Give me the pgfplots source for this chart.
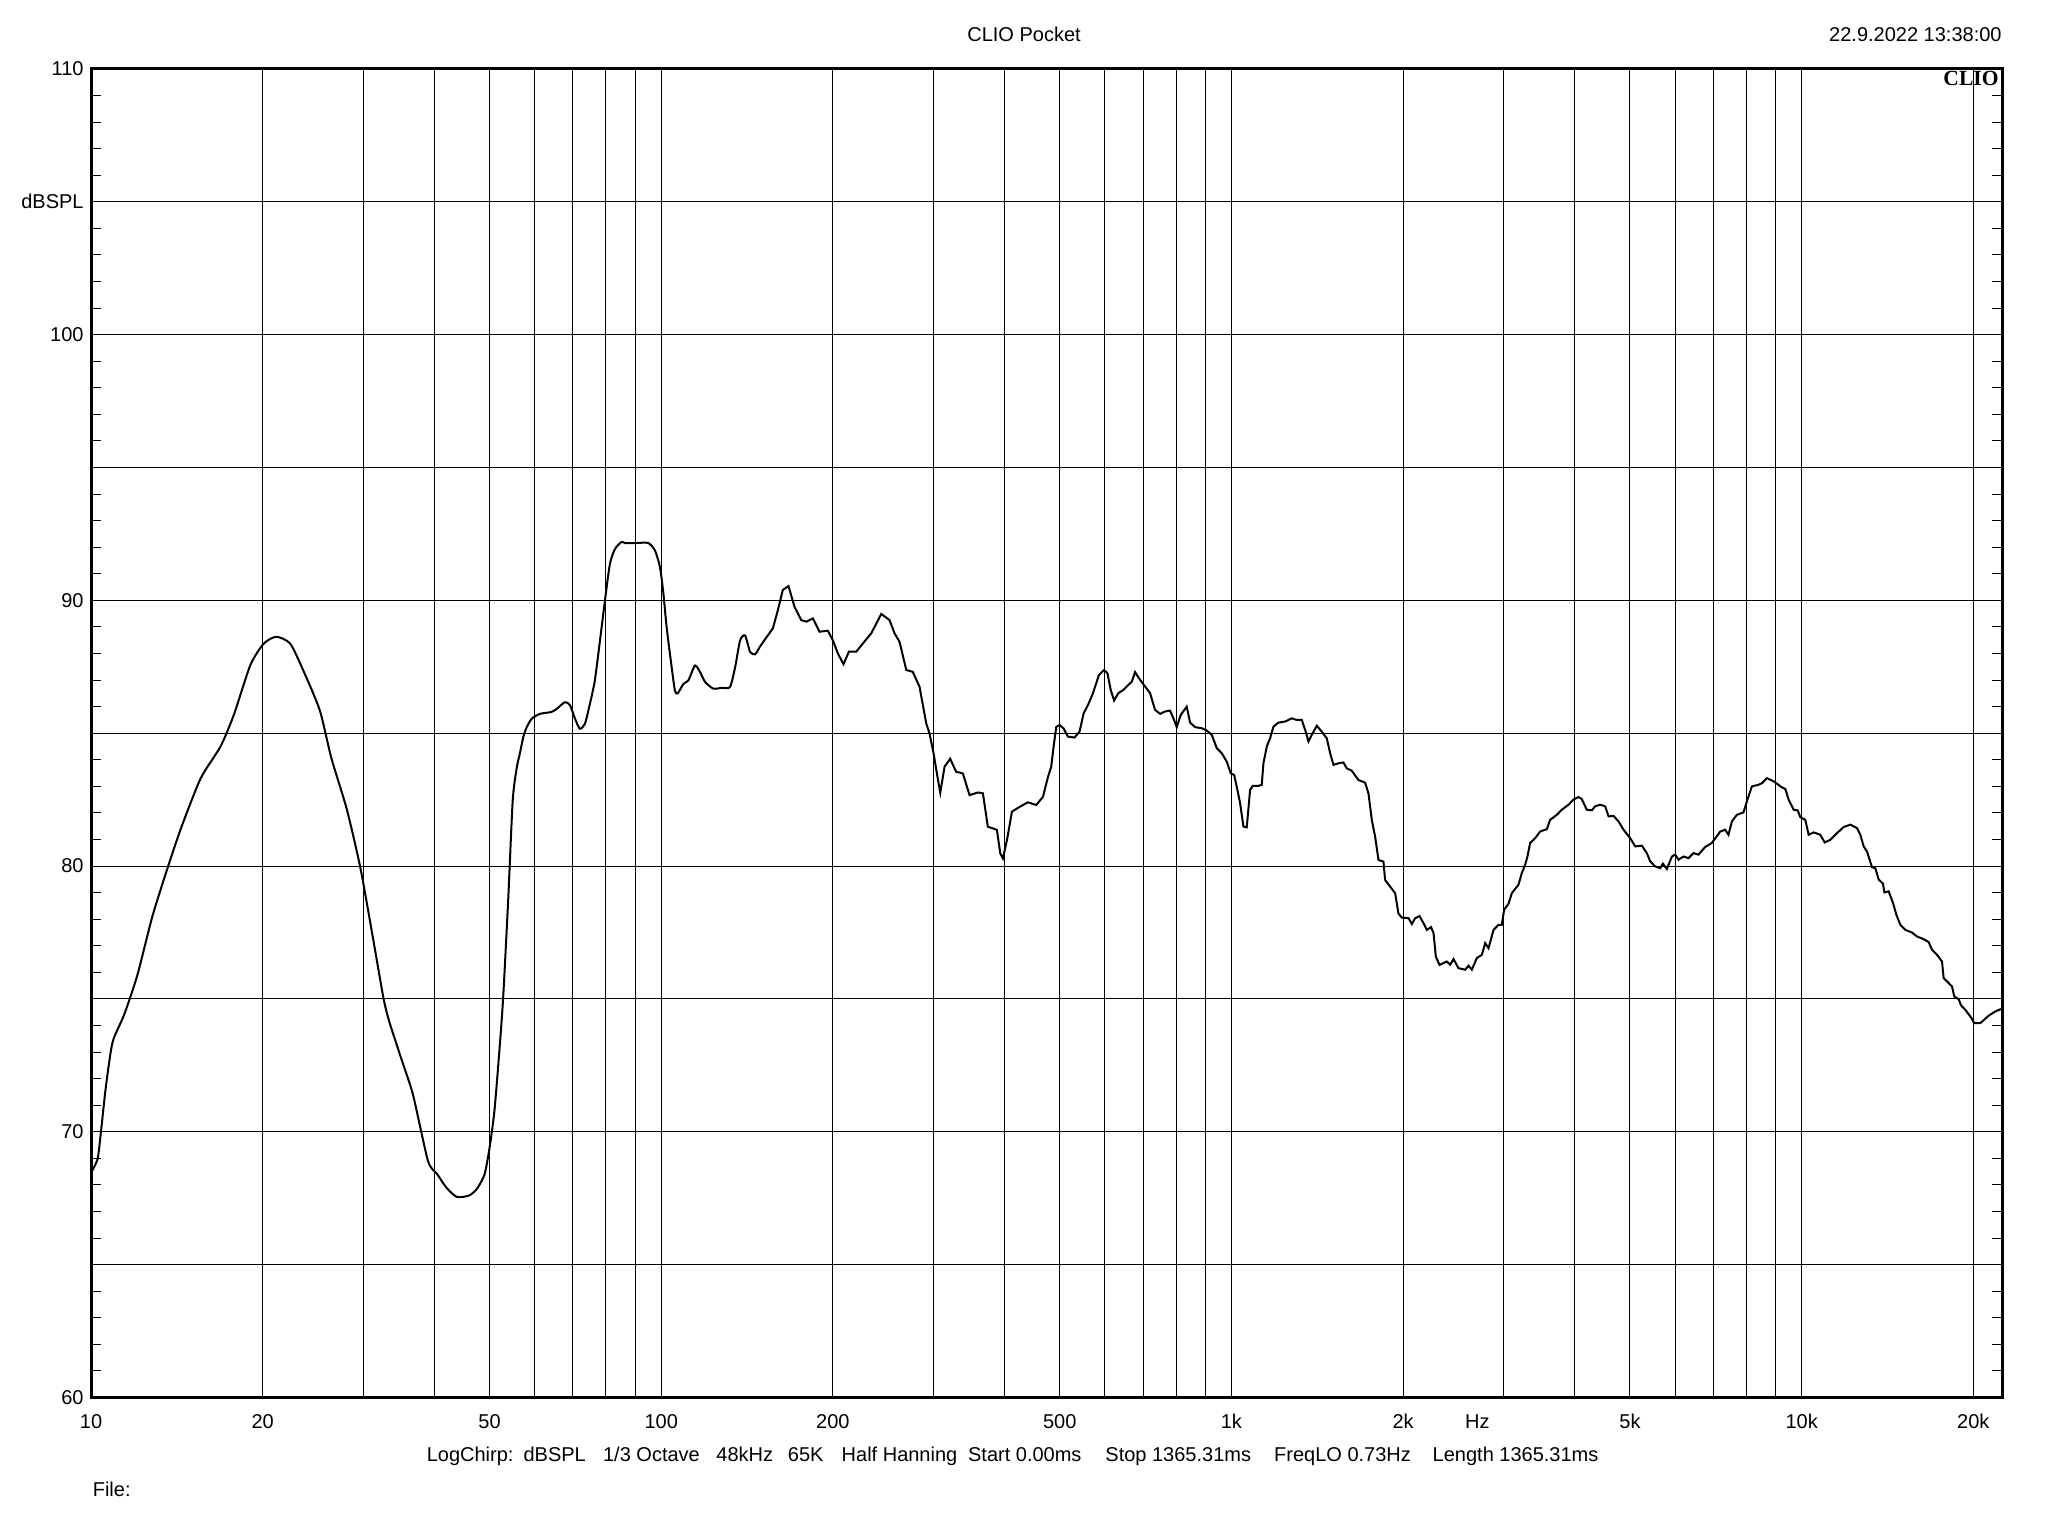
\documentclass[border=0pt]{standalone}
\usepackage{fontspec}
\setmainfont{Liberation Sans}
\newfontfamily\cliofont{Liberation Serif}
\usepackage{pgfplots}
\pgfplotsset{compat=1.18}
\begin{document}
\begin{tikzpicture}[x=1pt,y=1pt]
\useasboundingbox (0,0) rectangle (1024,768);
\begin{axis}[
  at={(45.5pt,69.25pt)}, anchor=south west, scale only axis,
  width=955.5pt, height=664.25pt,
  xmode=log, xmin=10, xmax=22460, ymin=60, ymax=110,
  axis line style={line width=1.5pt, black},
  xtick={10,20,50,100,200,500,1000,2000,2700,5000,10000,20000},
  xticklabels={10,20,50,100,200,500,1k,2k,Hz,5k,10k,20k},
  minor xtick={20,30,40,50,60,70,80,90,100,200,300,400,500,600,700,800,900,1000,2000,3000,4000,5000,6000,7000,8000,9000,10000,20000},
  xminorgrids=true, xmajorgrids=false,
  ytick={60,65,...,110},
  yticklabels={60,,70,,80,,90,,100,dBSPL,110},
  minor y tick num=4, ymajorgrids=true,
  major grid style={line width=0.5pt, black},
  minor grid style={line width=0.5pt, black},
  major tick length=0pt, minor tick length=5pt, tick align=inside,
  minor tick style={line width=0.5pt, black},
  ticklabel style={font=\fontsize{10}{12}\selectfont, inner sep=0pt},
  xticklabel style={anchor=base, yshift=-15.25pt},
  yticklabel style={anchor=east, xshift=-3.5pt},
]
\addplot[black, line width=1pt, smooth, tension=0.4] table {
10 68.46
10.27 68.98
10.41 70.0
10.62 71.7
10.91 73.37
11.43 74.4
12.06 75.9
12.81 78.1
13.61 79.9
14.37 81.4
15.57 83.3
16.87 84.5
17.81 85.7
19.03 87.56
20.08 88.37
21.13 88.63
22.36 88.37
23.6 87.33
25.2 85.85
26.4 84.06
28.1 82.13
29.7 79.9
31.28 77.2
32.6 75.0
33.4 74.1
35.2 72.6
36.7 71.4
39.0 68.9
40.5 68.4
42 67.9
43.8 67.55
46 67.6
47.5 67.85
49 68.4
50 69.4
51 70.8
52 73.0
52.8 74.98
53.9 78.7
54.9 82.47
55.8 83.7
56.5 84.23
57.3 84.86
58.1 85.23
59.3 85.55
61.3 85.73
64.2 85.8
65.6 85.92
67.8 86.17
69.2 86.05
70.6 85.55
72.0 85.17
73.5 85.36
75.0 86.11
76.5 86.99
78.1 88.49
79.7 90.0
81.3 91.38
83.0 91.94
85.2 92.2
86.4 92.16
90.6 92.16
94.9 92.16
97.5 91.88
99.5 91.25
100.9 90.25
102.2 89.0
104.3 87.49
105.7 86.6
106.9 86.5
109.4 86.86
111.6 86.99
114.6 87.55
117.0 87.3
119.4 86.93
123.4 86.68
127.7 86.71
132.0 86.74
134.8 87.49
137.5 88.49
140.3 88.68
143.2 88.06
146.1 87.97
148.9 88.25
};
\addplot[black, line width=1pt] table {
148.9 88.25
151.7 88.5
157 88.95
160.2 89.64
163.4 90.39
167.2 90.54
171.3 89.76
176 89.26
179.6 89.2
184.5 89.32
189.5 88.82
196 88.86
200 88.5
204.1 88.0
208.8 87.6
213.4 88.07
219.8 88.07
225.8 88.38
233.5 88.76
243.2 89.49
251.4 89.26
256.6 88.76
261.8 88.44
269 87.38
276.2 87.31
283.8 86.75
291.6 85.37
295.4 85.0
300.4 84.24
304.4 83.49
308.6 82.76
314 83.74
321.2 84.04
329 83.55
338 83.49
347.4 82.67
359.2 82.77
366.6 82.74
374 81.48
381.8 81.42
388 81.36
393.2 80.48
397.4 80.29
404 80.98
412.2 82.05
425.2 82.23
439.6 82.4
454.8 82.3
467.2 82.61
476.8 83.36
483 83.74
487.6 84.49
493 85.24
499.6 85.31
507.8 85.18
516.8 84.87
530.8 84.84
541.6 85.06
550.6 85.75
560.2 86.06
571.6 86.5
585.6 87.19
597.8 87.38
606.1 87.26
614.3 86.63
622.6 86.23
633.5 86.51
646.5 86.63
659.7 86.82
668.7 86.94
677.7 87.3
691.5 87.01
705.6 86.76
720.1 86.51
734.7 85.88
749.8 85.73
765.1 85.82
780.6 85.85
793.3 85.5
801.9 85.23
815 85.69
834.8 86.0
846.3 85.4
863.7 85.23
887.1 85.19
905.2 85.1
923.7 84.94
942.5 84.44
961.6 84.25
981.3 83.93
997.3 83.49
1011 83.43
1024.5 82.87
1035.6 82.37
1049.6 81.49
1063.9 81.46
1078.3 82.87
1089.9 83.02
1115.3 83.02
1130.4 83.06
1137.9 83.87
1153.4 84.5
1169.1 84.81
1185 85.25
1209 85.4
1241.9 85.44
1275.7 85.56
1302 85.5
1328.6 85.5
1346.6 85.13
1365 84.69
1383.4 84.94
1411.6 85.28
1440 85.06
1469.8 84.81
1489.8 84.25
1510 83.81
1540.5 83.87
1571.8 83.9
1593 83.68
1625.7 83.59
1670 83.24
1715.8 83.14
1739 82.74
1762.8 81.74
1786.5 81.11
1811 80.23
1847.8 80.17
1860 79.48
1898 79.23
1937 78.98
1963 78.22
1990 78.06
2044 78.04
2072 77.82
2100 78.04
2137 78.12
2172 77.85
2201 77.6
2240 77.7
2262 77.47
2283 76.59
2317 76.28
2354 76.35
2386 76.41
2419 76.29
2452 76.5
2501 76.16
2570 76.1
2605 76.25
2640 76.1
2694 76.54
2749 76.66
2786 77.1
2824 76.91
2882 77.6
2940 77.79
2980 77.79
3008 78.36
3061 78.58
3103 78.98
3187 79.3
3231 79.74
3274 80.05
3305 80.36
3341 80.87
3409 81.05
3478 81.3
3574 81.39
3622 81.74
3721 81.93
3797 82.12
3901 82.31
3980 82.5
4061 82.6
4116 82.52
4200 82.12
4286 82.1
4344 82.25
4433 82.31
4523 82.25
4585 81.87
4679 81.89
4774 81.68
4871 81.37
5004 81.05
5107 80.74
5245 80.77
5352 80.49
5425 80.18
5535 79.99
5648 79.92
5710 80.09
5802 79.89
5922 80.36
6001 80.43
6083 80.24
6207 80.36
6333 80.3
6462 80.49
6593 80.43
6774 80.72
6957 80.87
7100 81.12
7197 81.3
7344 81.37
7443 81.18
7545 81.68
7700 81.93
7907 82.02
8015 82.43
8179 83.0
8403 83.06
8518 83.12
8691 83.31
8928 83.19
9110 83.06
9174 83.0
9362 82.9
9489 82.5
9682 82.12
9840 82.1
9947 81.84
10149 81.74
10287 81.18
10496 81.27
10783 81.18
10973 80.89
11228 80.99
11534 81.24
11850 81.47
12174 81.56
12506 81.43
12674 81.18
12847 80.74
13020 80.55
13286 79.96
13466 79.92
13650 79.49
13891 79.34
13964 79.01
14211 79.05
14462 78.61
14659 78.17
14898 77.79
15200 77.6
15614 77.5
15932 77.35
16368 77.25
16702 77.14
16928 76.85
17275 76.66
17628 76.41
17746 75.78
17988 75.66
18353 75.47
18527 75.09
18855 74.99
19033 74.76
19370 74.59
19766 74.34
20088 74.09
20580 74.09
21280 74.37
21860 74.53
22367 74.62
};
\end{axis}
\begin{scope}[every node/.style={inner sep=0pt, font=\fontsize{10}{12}\selectfont}]
\node[anchor=base] at (512,747) {CLIO Pocket};
\node[anchor=base east] at (1001,747) {22.9.2022 13:38:00};
\node[anchor=base east, font=\cliofont\bfseries\fontsize{10.8}{12}\selectfont] at (999.5,725) {CLIO};
\node[anchor=base west] at (213.2,37.15) {LogChirp:};
\node[anchor=base west] at (261.6,37.15) {dBSPL};
\node[anchor=base west] at (301.35,37.15) {1/3 Octave};
\node[anchor=base west] at (358,37.15) {48kHz};
\node[anchor=base west] at (393.75,37.15) {65K};
\node[anchor=base west] at (420.65,37.15) {Half Hanning};
\node[anchor=base west] at (483.85,37.15) {Start 0.00ms};
\node[anchor=base west] at (552.5,37.15) {Stop 1365.31ms};
\node[anchor=base west] at (636.9,37.15) {FreqLO 0.73Hz};
\node[anchor=base west] at (716.15,37.15) {Length 1365.31ms};
\node[anchor=base west] at (46.2,19.65) {File:};
\end{scope}
\end{tikzpicture}
\end{document}
